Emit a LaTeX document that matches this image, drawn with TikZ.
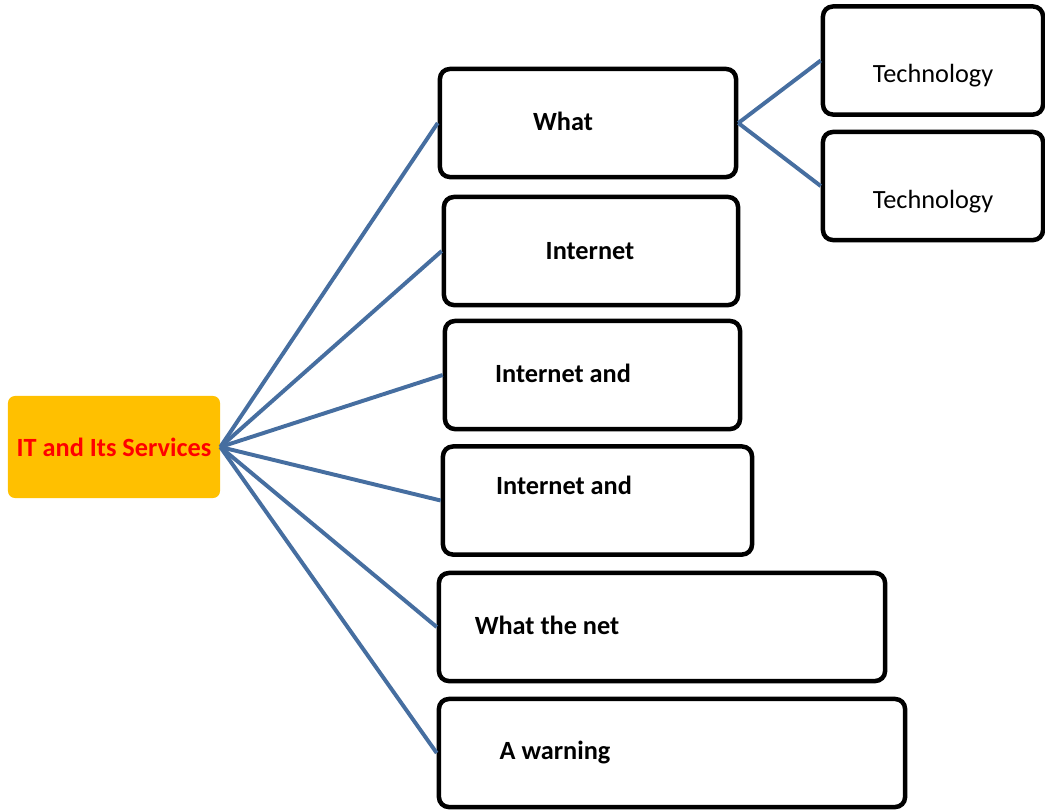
\documentclass[tikz,border=0pt]{standalone}
\usepackage{fontspec}
\setmainfont{Carlito}
\usepackage{xcolor}
\usetikzlibrary{positioning}

\definecolor{linkblue}{RGB}{70,110,160}
\definecolor{rootgold}{RGB}{255,192,0}
\definecolor{rootred}{RGB}{255,0,0}

\tikzset{
    box/.style={draw=black,line width=3.2pt,rounded corners=7pt,fill=white,minimum height=2.7cm},
    rootbox/.style={fill=rootgold,rounded corners=5pt,minimum width=5.3cm,minimum height=2.55cm},
    txt/.style={font=\fontsize{18.7}{22}\selectfont\bfseries},
    plaintxt/.style={font=\fontsize{18.7}{22}\selectfont},
    link/.style={linkblue,line width=2.8pt}
}

\begin{document}
\begin{tikzpicture}[x=0.025cm,y=-0.025cm]
            \useasboundingbox (0,0) rectangle (1045,810);

            % root
            \node[rootbox] (root) at (114,447) {};
            \node[txt,text=rootred] (roottxt) at (114,447) {IT and Its Services};

            % first level
            \node[box,minimum width=7.4cm] (what) at (588,123) {};
            \node[box,minimum width=7.35cm] (inet) at (591,251) {};
            \node[box,minimum width=7.375cm] (inetand) at (592.5,375) {};
            \node[box,minimum width=7.725cm] (inetandb) at (597.5,500.5) {};
            \node[box,minimum width=11.15cm] (whatnet) at (662,627) {};
            \node[box,minimum width=11.65cm] (warn) at (672,753) {};

            \node[txt] (whattxt) at (563,121) {What};
            \node[txt] (inettxt) at (590,251) {Internet};
            \node[txt] (inetandtxt) at (563,373) {Internet and};
            \node[txt] (inetandbtxt) at (564,485) {Internet and};
            \node[txt] (whatnettxt) at (547,625) {What the net};
            \node[txt] (warntxt) at (555,752) {A warning};

            % second level
            \node[box,minimum width=5.5cm] (techa) at (933,60.5) {};
            \node[box,minimum width=5.5cm] (techb) at (933,186) {};
            \node[plaintxt] (techatxt) at (933,76) {Technology};
            \node[plaintxt] (techbtxt) at (933,202) {Technology};

            % links
            \foreach \t in {what,inet,inetand,inetandb,whatnet,warn}
                \draw[link] (root.east) -- (\t.west);
            \draw[link] (what.east) -- (techa.west);
            \draw[link] (what.east) -- (techb.west);
        \end{tikzpicture}
\end{document}
